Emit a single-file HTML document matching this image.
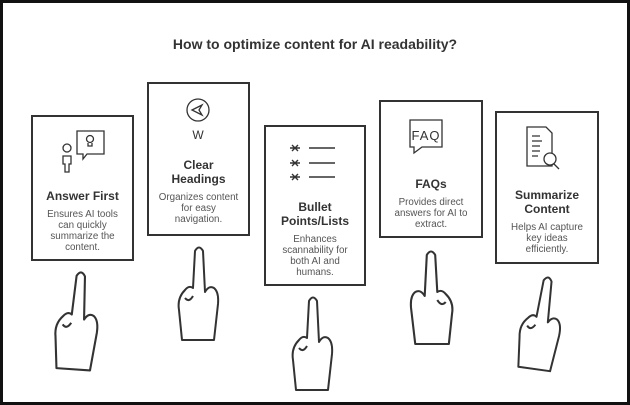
<!DOCTYPE html>
<html><head><meta charset="utf-8"><style>
body{margin:0;width:630px;height:405px;background:#fff;overflow:hidden;font-family:"Liberation Sans",sans-serif}
.frame{position:absolute;left:0;top:0;width:624px;height:399px;border:3px solid #111}
.t{position:absolute;left:0;top:36px;width:630px;text-align:center;font-weight:bold;font-size:14px;color:#333}
.box{position:absolute;border:2.5px solid #333;box-sizing:border-box;text-align:center}
.h{font-weight:bold;font-size:12px;color:#333;line-height:14px}
.d{font-size:9.8px;color:#555;line-height:11px;margin-top:6px}
</style></head><body>
<div class="frame"></div>
<div class="t">How to optimize content for AI readability?</div>

<div class="box" style="left:31px;top:115px;width:103px;height:146px">
 <div style="height:72px"></div>
 <div class="h">Answer First</div>
 <div class="d">Ensures AI tools<br>can quickly<br>summarize the<br>content.</div>
</div>
<div class="box" style="left:147px;top:82px;width:103px;height:154px">
 <div style="height:74px"></div>
 <div class="h">Clear<br>Headings</div>
 <div class="d">Organizes content<br>for easy<br>navigation.</div>
</div>
<div class="box" style="left:264px;top:125px;width:102px;height:161px">
 <div style="height:73px"></div>
 <div class="h">Bullet<br>Points/Lists</div>
 <div class="d">Enhances<br>scannability for<br>both AI and<br>humans.</div>
</div>
<div class="box" style="left:379px;top:100px;width:104px;height:138px">
 <div style="height:75px"></div>
 <div class="h">FAQs</div>
 <div class="d">Provides direct<br>answers for AI to<br>extract.</div>
</div>
<div class="box" style="left:495px;top:111px;width:104px;height:153px">
 <div style="height:75px"></div>
 <div class="h">Summarize<br>Content</div>
 <div class="d">Helps AI capture<br>key ideas<br>efficiently.</div>
</div>

<svg width="630" height="405" style="position:absolute;left:0;top:0" fill="none" stroke="#333" stroke-width="1.3">
 <circle cx="67" cy="148" r="4"/>
 <path d="M63 156 h8 v8 h-2 v8 h-4 v-8 h-2z"/>
 <path d="M77 131 h27 v23 h-17 l-4 5 v-5 h-6z"/>
 <circle cx="90" cy="139" r="3.5"/><path d="M88 143 v3 h4 v-3"/>
 <circle cx="198" cy="110" r="11"/>
 <path d="M192 110 l10 -5 l-3 5 l3 5z"/>
 <text x="198" y="139" font-size="12" fill="#333" stroke="none" text-anchor="middle" font-family="Liberation Sans">W</text>
 <g stroke-width="1.4">
 <path d="M292 145 l6 6 M298 145 l-6 6 M290 148 h10"/>
 <path d="M292 160 l6 6 M298 160 l-6 6 M290 163 h10"/>
 <path d="M292 174 l6 6 M298 174 l-6 6 M290 177 h10"/>
 <path d="M309 148 h26 M309 163 h26 M309 177 h26"/>
 </g>
 <path d="M410 120 h32 v27 h-20 l-8 6 v-6 h-4z"/>
 <text x="426" y="140" font-size="13" fill="#333" stroke="none" text-anchor="middle" font-family="Liberation Sans" letter-spacing="1">FAQ</text>
 <path d="M527 127 h19 l6 6 v33 h-25z"/>
 <path d="M532 136 h8 M532 141 h10 M532 146 h8 M532 151 h8 M532 156 h6"/>
 <circle cx="550" cy="159" r="6" fill="#fff"/><path d="M554 164 l5 5"/>
</svg>

<svg width="630" height="405" style="position:absolute;left:0;top:0" fill="#fff" stroke="#333" stroke-width="2" stroke-linejoin="round">
 <defs>
  <path id="hand" d="M-4 3 Q0 -4 4 3 L6 44 Q10 37 15 40 Q20 44 19 56 L15 92 L-17 92 L-20 62 Q-22 50 -14 42 Q-10 37 -6 40 Z M-14 50 Q-10 55 -6 48"/>
 </defs>
 <use href="#hand" transform="translate(81,273) rotate(4) scale(1.05)"/>
 <use href="#hand" transform="translate(199,248)"/>
 <use href="#hand" transform="translate(313,298)"/>
 <use href="#hand" transform="translate(431,252) scale(-1.05,1)"/>
 <use href="#hand" transform="translate(548,278) rotate(8)"/>
</svg>
</body></html>
